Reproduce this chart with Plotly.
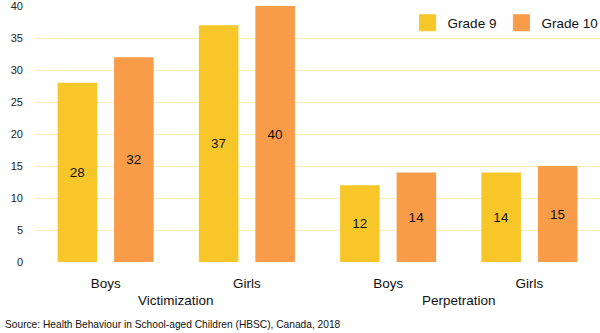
import plotly.graph_objects as go

# Bullying involvement by grade and gender
groups = ["Victimization", "Victimization", "Perpetration", "Perpetration"]
genders = ["Boys", "Girls", "Boys", "Girls"]
grade9 = [28, 37, 12, 14]
grade10 = [32, 40, 14, 15]
y_ticks = [0, 5, 10, 15, 20, 25, 30, 35, 40]
source_note = "Source: Health Behaviour in School-aged Children (HBSC), Canada, 2018"

FONT = "Liberation Sans, Arial, Helvetica, sans-serif"
YELLOW = "#F7C72A"
ORANGE = "#F89C4A"
GRID = "#FDEBB2"

positions = list(range(len(genders)))

fig = go.Figure()
series = [("Grade 9", grade9, YELLOW), ("Grade 10", grade10, ORANGE)]
for name, vals, color in series:
    fig.add_trace(go.Bar(
        name=name,
        legendgroup=name,
        showlegend=False,
        x=positions,
        y=vals,
        marker=dict(color=color, line=dict(width=0)),
        text=[str(v) for v in vals],
        textposition="inside",
        insidetextanchor="middle",
        textangle=0,
        textfont=dict(family=FONT, size=13.5, color="#111111"),
        hoverinfo="skip",
    ))

# Larger square swatches for the legend
for name, vals, color in series:
    fig.add_trace(go.Scatter(
        name=name,
        legendgroup=name,
        x=[None], y=[None],
        mode="markers",
        marker=dict(symbol="square", size=16, color=color,
                    line=dict(width=1, color=color)),
        hoverinfo="skip",
    ))

# Outer group labels centred under their pair of categories
group_labels = []
for g in dict.fromkeys(groups):
    idx = [i for i, gg in enumerate(groups) if gg == g]
    group_labels.append(dict(
        text=g,
        xref="x", yref="paper",
        x=sum(idx) / len(idx), y=(262 - 300.7) / 256,
        xanchor="center", yanchor="middle",
        showarrow=False,
        font=dict(family=FONT, size=13.5, color="#111111"),
    ))

fig.update_layout(
    width=600,
    height=333,
    margin=dict(l=35, r=0, t=6, b=71, autoexpand=False),
    paper_bgcolor="white",
    plot_bgcolor="white",
    barmode="group",
    bargap=0.2,
    bargroupgap=0.3,
    font=dict(family=FONT, size=13.5, color="#111111"),
    uniformtext=dict(minsize=13, mode="show"),
    showlegend=True,
    legend=dict(
        orientation="h",
        x=1.0064,
        xanchor="right",
        y=(262 - 23) / 256,
        yanchor="middle",
        font=dict(family=FONT, size=13.5, color="#111111"),
        bgcolor="rgba(0,0,0,0)",
        itemwidth=30,
        traceorder="normal",
    ),
    xaxis=dict(
        range=[-0.5, len(genders) - 0.5],
        tickvals=positions,
        ticktext=genders,
        showgrid=False,
        showline=False,
        zeroline=False,
        ticks="",
        ticklabelstandoff=11,
        tickfont=dict(family=FONT, size=13.5, color="#111111"),
    ),
    yaxis=dict(
        range=[0, 40],
        tickvals=y_ticks,
        showgrid=True,
        gridcolor=GRID,
        gridwidth=1,
        zeroline=False,
        showline=False,
        ticks="",
        ticklabelstandoff=11,
        ticklabeloverflow="allow",
        tickfont=dict(family=FONT, size=11, color="#222222"),
    ),
    annotations=group_labels + [dict(
        text=source_note,
        xref="paper", yref="paper",
        x=(3 - 35) / 565, y=(262 - 324) / 256,
        xanchor="left", yanchor="middle",
        showarrow=False,
        font=dict(family=FONT, size=10.2, color="#111111"),
    )],
)

fig.write_html("out.html")
